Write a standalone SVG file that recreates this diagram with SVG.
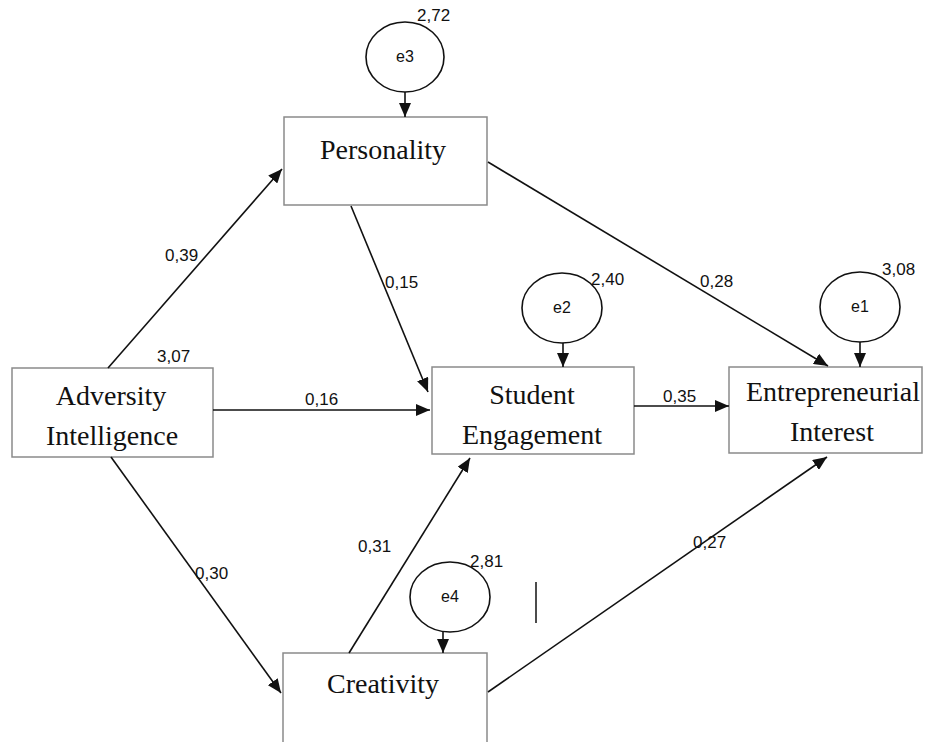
<svg xmlns="http://www.w3.org/2000/svg" width="929" height="742" viewBox="0 0 929 742">
<style>
.box{fill:#fff;stroke:#8a8a8a;stroke-width:1.5}
.err{fill:#fff;stroke:#111;stroke-width:1.6}
.lbl{font-family:"Liberation Serif","Times New Roman",serif;font-size:28px;fill:#111;text-anchor:middle}
.num{font-family:"Liberation Sans",Arial,sans-serif;font-size:17px;fill:#111}
.et{font-family:"Liberation Sans",Arial,sans-serif;font-size:16px;fill:#111;text-anchor:middle}
.con line{stroke:#111;stroke-width:1.6;marker-end:url(#ah)}
</style>
<defs>
<marker id="ah" markerUnits="userSpaceOnUse" markerWidth="14" markerHeight="12" refX="14" refY="6" orient="auto">
<path d="M0,0 L14,6 L0,12 z" fill="#111"/>
</marker>
</defs>
<rect width="929" height="742" fill="#fff"/>
<g id="personality"><rect class="box" x="284" y="117" width="203" height="88"/><text class="lbl" x="383" y="159">Personality</text></g>
<g id="adversity"><rect class="box" x="12" y="368" width="201" height="89"/><text class="lbl" x="111" y="405">Adversity</text><text class="lbl" x="112" y="445">Intelligence</text></g>
<g id="engagement"><rect class="box" x="432" y="367" width="202" height="87"/><text class="lbl" x="532" y="404">Student</text><text class="lbl" x="532" y="444">Engagement</text></g>
<g id="interest"><rect class="box" x="729" y="367" width="193" height="86"/><text class="lbl" x="833" y="401">Entrepreneurial</text><text class="lbl" x="832" y="441">Interest</text></g>
<g id="creativity"><rect class="box" x="283" y="653" width="204" height="95"/><text class="lbl" x="383" y="693">Creativity</text></g>
<g id="e3"><ellipse class="err" cx="405" cy="57" rx="39" ry="35"/><text class="et" x="405" y="62">e3</text><text class="num" x="417" y="21">2,72</text></g>
<g id="e2"><ellipse class="err" cx="562" cy="308" rx="40" ry="35"/><text class="et" x="562" y="313">e2</text><text class="num" x="591" y="285">2,40</text></g>
<g id="e1"><ellipse class="err" cx="860" cy="307" rx="40" ry="35"/><text class="et" x="860" y="312">e1</text><text class="num" x="882" y="275">3,08</text></g>
<g id="e4"><ellipse class="err" cx="450" cy="597" rx="40" ry="35"/><text class="et" x="450" y="602">e4</text><text class="num" x="470" y="567">2,81</text></g>
<g id="connectors" class="con">
<line x1="108" y1="368" x2="282" y2="169"/>
<line x1="213" y1="410" x2="430" y2="410"/>
<line x1="111" y1="457" x2="281" y2="693"/>
<line x1="351" y1="206" x2="428" y2="392"/>
<line x1="488" y1="162" x2="828" y2="366"/>
<line x1="349" y1="653" x2="470" y2="458"/>
<line x1="488" y1="692" x2="827" y2="457"/>
<line x1="634" y1="406" x2="729" y2="406"/>
<line x1="405" y1="92" x2="405" y2="117"/>
<line x1="563" y1="343" x2="563" y2="367"/>
<line x1="860" y1="342" x2="860" y2="367"/>
<line x1="443" y1="632" x2="443" y2="653"/>
</g>
<g id="labels">
<text class="num" x="165" y="261">0,39</text>
<text class="num" x="157" y="362">3,07</text>
<text class="num" x="385" y="288">0,15</text>
<text class="num" x="305" y="405">0,16</text>
<text class="num" x="700" y="287">0,28</text>
<text class="num" x="663" y="402">0,35</text>
<text class="num" x="195" y="579">0,30</text>
<text class="num" x="358" y="552">0,31</text>
<text class="num" x="693" y="548">0,27</text>
</g>
<line x1="536" y1="582" x2="536" y2="623" stroke="#111" stroke-width="1.5"/>
</svg>
